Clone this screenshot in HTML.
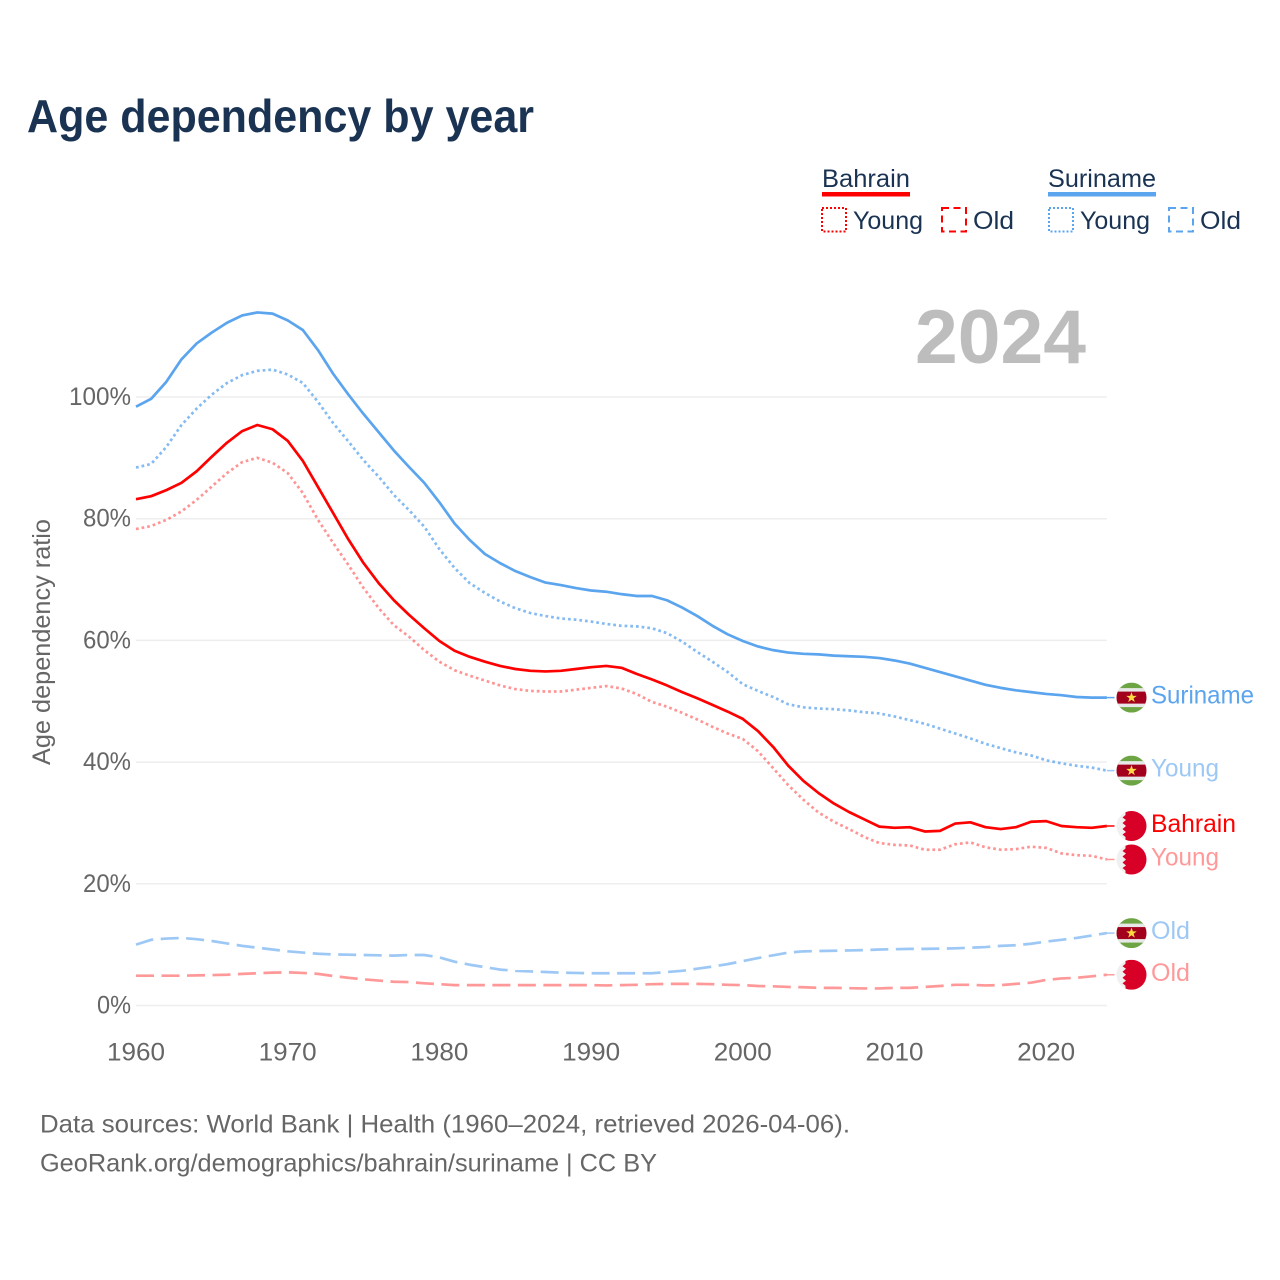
<!DOCTYPE html>
<html lang="en">
<head>
<meta charset="utf-8">
<title>Age dependency by year</title>
<style>
  html, body { margin: 0; padding: 0; background: #fff; }
  svg { display: block; font-family: "Liberation Sans", sans-serif; }
</style>
</head>
<body>
<svg id="chart" xmlns="http://www.w3.org/2000/svg" width="1280" height="1280" viewBox="0 0 1280 1280">
  <defs>
    <clipPath id="flag-clip"><circle cx="0" cy="0" r="15"></circle></clipPath>
  </defs>
  <rect width="1280" height="1280" fill="#ffffff"></rect>

  <text x="27" y="132" font-size="46" font-weight="700" fill="#1a3353" textLength="507" lengthAdjust="spacingAndGlyphs">Age dependency by year</text>

  <g font-size="25" fill="#1a3353">
    <text x="822" y="187" textLength="88" lengthAdjust="spacingAndGlyphs">Bahrain</text>
    <rect x="822" y="192" width="88" height="4.5" fill="#ff0000"></rect>
    <rect x="822" y="208" width="24" height="23.5" fill="none" stroke="#ff0000" stroke-width="2" stroke-dasharray="2 2"></rect>
    <text x="853" y="229" textLength="70" lengthAdjust="spacingAndGlyphs">Young</text>
    <rect x="942" y="208" width="24" height="23.5" fill="none" stroke="#ff0000" stroke-width="2" stroke-dasharray="7 4.5"></rect>
    <text x="973" y="229" textLength="41" lengthAdjust="spacingAndGlyphs">Old</text>

    <text x="1048" y="187" textLength="108" lengthAdjust="spacingAndGlyphs">Suriname</text>
    <rect x="1048" y="192" width="108" height="4.5" fill="#5ba4ee"></rect>
    <rect x="1049" y="208" width="24" height="23.5" fill="none" stroke="#5ba4ee" stroke-width="2" stroke-dasharray="2 2"></rect>
    <text x="1080" y="229" textLength="70" lengthAdjust="spacingAndGlyphs">Young</text>
    <rect x="1169" y="208" width="24" height="23.5" fill="none" stroke="#5ba4ee" stroke-width="2" stroke-dasharray="7 4.5"></rect>
    <text x="1200" y="229" textLength="41" lengthAdjust="spacingAndGlyphs">Old</text>
  </g>

  <g id="grid"></g>
  <g id="y-ticks"></g>
  <g id="x-ticks"></g>

  <text transform="translate(50 642) rotate(-90)" text-anchor="middle" font-size="25" fill="#666666" textLength="246" lengthAdjust="spacingAndGlyphs">Age dependency ratio</text>

  <text x="915" y="363" font-size="76" font-weight="700" fill="#bdbdbd" textLength="171" lengthAdjust="spacingAndGlyphs">2024</text>

  <g id="series"></g>
  <g id="end-labels"></g>

  <text x="40" y="1132.5" font-size="25" fill="#666666" textLength="810" lengthAdjust="spacingAndGlyphs">Data sources: World Bank | Health (1960–2024, retrieved 2026-04-06).</text>
  <text x="40" y="1171.5" font-size="25" fill="#666666" textLength="617" lengthAdjust="spacingAndGlyphs">GeoRank.org/demographics/bahrain/suriname | CC BY</text>
</svg>

<script>
const firstYear = 1960;
const yearTicks = [1960, 1970, 1980, 1990, 2000, 2010, 2020];
const percentTicks = [0, 20, 40, 60, 80, 100];

const surinameTotal = [98.4,99.7,102.5,106.2,108.8,110.6,112.2,113.4,113.9,113.7,112.6,111.0,107.7,103.8,100.4,97.2,94.2,91.2,88.5,85.9,82.7,79.2,76.5,74.2,72.7,71.4,70.4,69.5,69.1,68.6,68.2,68.0,67.6,67.3,67.3,66.6,65.4,64.0,62.4,61.0,59.9,59.0,58.4,58.0,57.8,57.7,57.5,57.4,57.3,57.1,56.7,56.2,55.5,54.8,54.1,53.4,52.7,52.2,51.8,51.5,51.2,51.0,50.7,50.6,50.6];
const surinameYoung = [88.4,89.0,91.8,95.4,98.1,100.4,102.3,103.6,104.3,104.5,103.7,102.3,99.2,95.7,92.7,89.6,86.9,83.9,81.4,78.7,75.0,71.9,69.4,67.8,66.4,65.3,64.5,64.0,63.6,63.4,63.1,62.7,62.4,62.3,62.0,61.2,59.8,58.1,56.5,54.8,52.8,51.7,50.7,49.5,49.0,48.8,48.7,48.5,48.2,48.0,47.5,46.9,46.3,45.5,44.7,43.9,43.0,42.3,41.6,41.1,40.3,39.8,39.4,39.1,38.6];
const surinameOld = [10.0,10.8,11.0,11.1,10.9,10.6,10.2,9.8,9.5,9.2,8.9,8.7,8.5,8.4,8.35,8.3,8.25,8.2,8.3,8.3,7.9,7.2,6.7,6.3,5.9,5.7,5.6,5.5,5.4,5.35,5.3,5.3,5.3,5.3,5.3,5.5,5.7,6.05,6.4,6.8,7.3,7.8,8.25,8.7,8.9,8.95,9.0,9.05,9.1,9.2,9.25,9.3,9.3,9.35,9.4,9.5,9.6,9.8,9.9,10.15,10.5,10.8,11.1,11.5,11.9];
const bahrainTotal = [83.2,83.7,84.7,85.9,87.8,90.2,92.5,94.4,95.4,94.7,92.8,89.5,85.2,80.9,76.6,72.7,69.4,66.6,64.2,62.0,59.9,58.3,57.3,56.5,55.8,55.3,55.0,54.9,55.0,55.3,55.6,55.8,55.5,54.5,53.6,52.6,51.5,50.5,49.4,48.3,47.1,45.1,42.5,39.4,36.9,34.9,33.2,31.8,30.6,29.4,29.2,29.3,28.6,28.7,29.9,30.1,29.3,29.0,29.3,30.2,30.3,29.5,29.3,29.2,29.5];
const bahrainYoung = [78.3,78.8,79.8,81.2,83.1,85.3,87.5,89.3,90.0,89.2,87.5,84.2,79.8,76.0,72.4,68.6,65.3,62.5,60.6,58.4,56.5,55.1,54.2,53.4,52.6,52.0,51.7,51.6,51.6,51.9,52.2,52.5,52.1,51.2,49.9,49.1,48.1,47.0,45.8,44.7,43.8,41.8,39.0,36.2,33.8,31.7,30.2,29.0,27.7,26.7,26.4,26.3,25.6,25.6,26.5,26.8,26.0,25.6,25.7,26.1,25.9,25.0,24.7,24.6,24.0];
const bahrainOld = [4.9,4.9,4.9,4.9,4.95,5.0,5.05,5.2,5.3,5.4,5.45,5.35,5.2,4.85,4.55,4.3,4.1,3.9,3.85,3.65,3.5,3.35,3.35,3.35,3.35,3.35,3.35,3.35,3.35,3.35,3.35,3.3,3.35,3.4,3.5,3.55,3.55,3.55,3.5,3.4,3.35,3.2,3.15,3.05,3.0,2.9,2.9,2.85,2.8,2.8,2.9,2.9,3.05,3.2,3.4,3.4,3.3,3.35,3.55,3.75,4.2,4.45,4.55,4.8,5.05];

const SVG_NS = 'http://www.w3.org/2000/svg';
const xScale = function (year) { return 136 + (year - firstYear) * 15.17; };
const yScale = function (pct) { return 1005.5 - pct * 6.085; };
const gridRight = xScale(2024);

function make(tag, attrs, parent) {
  const el = document.createElementNS(SVG_NS, tag);
  for (const key in attrs) el.setAttribute(key, attrs[key]);
  parent.appendChild(el);
  return el;
}

const gridGroup = document.getElementById('grid');
const yTickGroup = document.getElementById('y-ticks');
const xTickGroup = document.getElementById('x-ticks');
const seriesGroup = document.getElementById('series');
const labelGroup = document.getElementById('end-labels');

percentTicks.forEach(function (pct) {
  const line = make('line', { x1: 136, x2: gridRight, y1: yScale(pct), y2: yScale(pct), stroke: '#eeeeee', 'stroke-width': 1.5 }, gridGroup);
  
  
  const label = make('text', { x: 131, y: yScale(pct) + 8, 'text-anchor': 'end', 'font-size': 25, fill: '#666666', textLength: pct === 100 ? 62 : (pct === 0 ? 34 : 48), lengthAdjust: 'spacingAndGlyphs' }, yTickGroup);
  
  
  label.textContent = pct + '%';
});

yearTicks.forEach(function (year) {
  const label = make('text', { x: xScale(year), y: 1060.5, 'text-anchor': 'middle', 'font-size': 25, fill: '#666666', textLength: 58, lengthAdjust: 'spacingAndGlyphs' }, xTickGroup);
  
  
  label.textContent = year;
});

function drawSeries(name, values, color, opacity, dash) {
  const pts = values.map(function (v, i) { return xScale(firstYear + i).toFixed(2) + ',' + yScale(v).toFixed(2); }).join(' ');
  const attrs = { points: pts, fill: 'none', stroke: color, 'stroke-width': 2.7, 'stroke-opacity': opacity, 'stroke-linejoin': 'round' };
  if (dash) attrs['stroke-dasharray'] = dash;
  const line = make('polyline', attrs, seriesGroup);
  
  
}

drawSeries('suriname-old', surinameOld, '#5ba4ee', 0.6, '18 7.5');
drawSeries('bahrain-old', bahrainOld, '#ff0000', 0.4, '18 7.5');
drawSeries('suriname-young', surinameYoung, '#5ba4ee', 0.75, '2.7 3');
drawSeries('bahrain-young', bahrainYoung, '#ff0000', 0.42, '2.7 3');
drawSeries('suriname-total', surinameTotal, '#5ba4ee', 1, null);
drawSeries('bahrain-total', bahrainTotal, '#ff0000', 1, null);

function drawSuriFlag(g) {
  const clip = make('g', { 'clip-path': 'url(#flag-clip)' }, g);
  make('rect', { x: -15, y: -15, width: 30, height: 30, fill: '#6da544' }, clip);
  make('rect', { x: -15, y: -9.5, width: 30, height: 19, fill: '#e8e8e8' }, clip);
  make('rect', { x: -15, y: -6, width: 30, height: 12, fill: '#a2001d' }, clip);
  make('polygon', { points: '0,-5.5 1.4,-1.7 5.3,-1.7 2.1,0.7 3.3,4.5 0,2.2 -3.3,4.5 -2.1,0.7 -5.3,-1.7 -1.4,-1.7', fill: '#ffda44' }, clip);
}

function drawBahrainFlag(g) {
  const clip = make('g', { 'clip-path': 'url(#flag-clip)' }, g);
  make('rect', { x: -15, y: -15, width: 30, height: 30, fill: '#f0f0f0' }, clip);
  make('polygon', { points: '-6,-15 15,-15 15,15 -6,15 -6,11 -9,8.5 -5.5,6 -9,3 -5.5,0 -9,-3 -5.5,-6 -9,-8.5 -6,-11', fill: '#d80027' }, clip);
}

function drawEnd(name, text, values, color, opacity, flag, width) {
  const y = yScale(values[values.length - 1]);
  const link = make('line', { x1: gridRight, x2: 1114.5, y1: y, y2: y, stroke: color, 'stroke-width': 1.5, 'stroke-opacity': opacity }, labelGroup);
  
  
  const g = make('g', { transform: 'translate(1131.5 ' + y.toFixed(2) + ')' }, labelGroup);
  
  
  flag(g);
  const label = make('text', { x: 1151, y: y + 6, 'font-size': 25, fill: color, 'fill-opacity': opacity, textLength: width, lengthAdjust: 'spacingAndGlyphs' }, labelGroup);
  
  
  label.textContent = text;
}

drawEnd('suriname-total', 'Suriname', surinameTotal, '#5ba4ee', 1, drawSuriFlag, 103);
drawEnd('suriname-young', 'Young', surinameYoung, '#5ba4ee', 0.6, drawSuriFlag, 68);
drawEnd('bahrain-total', 'Bahrain', bahrainTotal, '#ff0000', 1, drawBahrainFlag, 85);
drawEnd('bahrain-young', 'Young', bahrainYoung, '#ff0000', 0.4, drawBahrainFlag, 68);
drawEnd('suriname-old', 'Old', surinameOld, '#5ba4ee', 0.6, drawSuriFlag, 39);
drawEnd('bahrain-old', 'Old', bahrainOld, '#ff0000', 0.4, drawBahrainFlag, 39);
</script>
</body>
</html>
